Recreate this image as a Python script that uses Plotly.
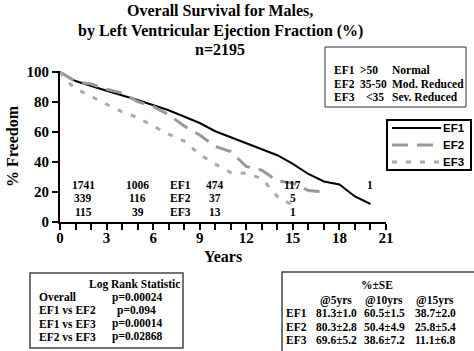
import plotly.graph_objects as go

# ---------------- data ----------------
ef1_years = [0, 1, 3, 5, 7, 9, 10, 11, 13, 14, 15, 16, 17, 18, 19, 20]
ef1_surv = [100, 94, 87.5, 81.3, 74.5, 66, 60.5, 56.5, 49, 44.5, 38.7, 32, 27, 25, 17, 12]

ef2_years = [0, 1, 2, 3, 4, 5, 6, 7, 8, 9, 10, 11, 11.5, 12, 13, 13.5, 14, 15, 16, 17]
ef2_surv = [100, 93.5, 92, 88.5, 86, 80.3, 77, 71.5, 64, 58, 50.4, 47, 42, 37, 34.5, 31, 27.5, 25.8, 21, 20]

ef3_years = [0, 0.5, 1, 2, 3, 4, 5, 6, 7, 8, 9, 10, 11, 12, 13, 13.5, 14, 15]
ef3_surv = [100, 93.5, 89, 83.5, 78.5, 73.5, 69.6, 64, 58.5, 54, 45, 38.6, 33, 32.5, 29, 23, 17, 11.1]

series_names = ["EF1", "EF2", "EF3"]

# numbers at risk
risk_cols = [1.5, 5, 10, 15, 20]
risk_ef1 = ["1741", "1006", "474", "117", "1"]
risk_ef2 = ["339", "116", "37", "5"]
risk_ef3 = ["115", "39", "13", "1"]

# EF definition box
ef_labels = ["EF1", "EF2", "EF3"]
ef_ranges = [">50", "35-50", "<35"]
ef_desc = ["Normal", "Mod. Reduced", "Sev. Reduced"]

# log rank statistics
lr_names = ["Overall", "EF1 vs EF2", "EF1 vs EF3", "EF2 vs EF3"]
lr_pvals = ["p=0.00024", "p=0.094", "p=0.00014", "p=0.02868"]

# % +- SE table
se_cols = ["@5yrs", "@10yrs", "@15yrs"]
se_rows = {
    "EF1": ["81.3±1.0", "60.5±1.5", "38.7±2.0"],
    "EF2": ["80.3±2.8", "50.4±4.9", "25.8±5.4"],
    "EF3": ["69.6±5.2", "38.6±7.2", "11.1±6.8"],
}

x_ticks = [0, 3, 6, 9, 12, 15, 18, 21]
y_ticks = [0, 20, 40, 60, 80, 100]

# ---------------- layout helpers ----------------
W, H = 474, 351
L, R, T, B = 60, 88, 71, 129
PW, PH = W - L - R, H - T - B
SERIF = "Liberation Serif"


def px(x):
    return (x - L) / PW


def py(y):
    return (H - B - y) / PH


styles = [
    dict(color="black", width=2),
    dict(color="#999999", width=3, dash="16px,9px"),
    dict(color="#aaaaaa", width=3, dash="5px,9px"),
]

fig = go.Figure()
for name, xs, ys, st in zip(series_names, [ef1_years, ef2_years, ef3_years],
                            [ef1_surv, ef2_surv, ef3_surv], styles):
    fig.add_trace(go.Scatter(x=xs, y=ys, mode="lines", name=name, line=st, showlegend=False))

ann = []
fsmall = dict(family=SERIF, size=11.5, color="black", weight="bold")

# numbers at risk
for row, (vals, yv) in enumerate(zip([risk_ef1, risk_ef2, risk_ef3], [25, 16, 7])):
    for i, v in enumerate(vals):
        ann.append(dict(x=risk_cols[i], y=yv, xref="x", yref="y", text=v, showarrow=False,
                        font=fsmall, xanchor="center", yanchor="middle"))
    ann.append(dict(x=7.75, y=yv, xref="x", yref="y", text=series_names[row], showarrow=False,
                    font=fsmall, xanchor="center", yanchor="middle"))

# title
title_lines = ["Overall Survival for Males,", "by Left Ventricular Ejection Fraction (%)", "n=2195"]
for txt, yy in zip(title_lines, [11, 31, 50]):
    ann.append(dict(x=px(220), y=py(yy), xref="paper", yref="paper", text=txt, showarrow=False,
                    font=dict(family=SERIF, size=16, color="black", weight="bold"),
                    xanchor="center", yanchor="middle"))

# EF definitions box
for i in range(3):
    yy = py(70 + 13.5 * i)
    ann.append(dict(x=px(332), y=yy, xref="paper", yref="paper", text=ef_labels[i], showarrow=False,
                    font=fsmall, xanchor="left", yanchor="middle"))
    ann.append(dict(x=px(364 if ef_ranges[i] == "<35" else 358), y=yy, xref="paper", yref="paper",
                    text=ef_ranges[i], showarrow=False, font=fsmall, xanchor="left", yanchor="middle"))
    ann.append(dict(x=px(390), y=yy, xref="paper", yref="paper", text=ef_desc[i], showarrow=False,
                    font=fsmall, xanchor="left", yanchor="middle"))

# log rank box
ann.append(dict(x=px(87), y=py(284), xref="paper", yref="paper", text="Log Rank Statistic",
                showarrow=False, font=fsmall, xanchor="left", yanchor="middle"))
for i, (n, p) in enumerate(zip(lr_names, lr_pvals)):
    yy = py(297 + 13.3 * i)
    ann.append(dict(x=px(37), y=yy, xref="paper", yref="paper", text=n, showarrow=False,
                    font=fsmall, xanchor="left", yanchor="middle"))
    ann.append(dict(x=px(115 if p == "p=0.094" else 110), y=yy, xref="paper", yref="paper", text=p,
                    showarrow=False, font=fsmall, xanchor="left", yanchor="middle"))

# SE table
ann.append(dict(x=px(377), y=py(285), xref="paper", yref="paper", text="%±SE", showarrow=False,
                font=fsmall, xanchor="center", yanchor="middle"))
col_x = [336, 384, 435]
for j, c in enumerate(se_cols):
    ann.append(dict(x=px(col_x[j]), y=py(300), xref="paper", yref="paper", text=c, showarrow=False,
                    font=fsmall, xanchor="center", yanchor="middle"))
for i, (k, vals) in enumerate(se_rows.items()):
    yy = py(313 + 13.5 * i)
    ann.append(dict(x=px(284), y=yy, xref="paper", yref="paper", text=k, showarrow=False,
                    font=fsmall, xanchor="left", yanchor="middle"))
    for j, v in enumerate(vals):
        ann.append(dict(x=px(col_x[j]), y=yy, xref="paper", yref="paper", text=v, showarrow=False,
                        font=fsmall, xanchor="center", yanchor="middle"))

shapes = [
    dict(type="rect", xref="paper", yref="paper", x0=px(325), x1=px(466), y0=py(107), y1=py(47),
         line=dict(color="#333333", width=1)),
    dict(type="rect", xref="paper", yref="paper", x0=px(30), x1=px(183), y0=py(348), y1=py(273),
         line=dict(color="#444444", width=1.5)),
    dict(type="rect", xref="paper", yref="paper", x0=px(282), x1=px(478), y0=py(356), y1=py(272),
         line=dict(color="#444444", width=1.5)),
    # legend frame
    dict(type="rect", xref="paper", yref="paper", x0=px(387), x1=px(471), y0=py(170), y1=py(120),
         line=dict(color="black", width=2), fillcolor="white"),
]

# legend entries
for i, (name, st) in enumerate(zip(series_names, styles)):
    yy = py(128 + 17 * i)
    shapes.append(dict(type="line", xref="paper", yref="paper", x0=px(392), x1=px(441), y0=yy, y1=yy,
                       line=st))
    ann.append(dict(x=px(441), y=yy, xref="paper", yref="paper", text=name, showarrow=False,
                    font=dict(family="Liberation Sans", size=11.5, color="black", weight="bold"),
                    xanchor="left", yanchor="middle"))

fig.update_layout(
    width=W, height=H,
    margin=dict(l=L, r=R, t=T, b=B),
    paper_bgcolor="white", plot_bgcolor="white",
    font=dict(family=SERIF, color="black", weight="bold"),
    showlegend=False,
    annotations=ann,
    shapes=shapes,
    xaxis=dict(range=[0, 21], tickvals=x_ticks, showgrid=False, zeroline=False,
               showline=True, linecolor="black", linewidth=2,
               ticks="outside", ticklen=6, tickwidth=2, tickcolor="black",
               ticklabelstandoff=-5,
               minor=dict(dtick=1, tick0=0, ticks="outside", ticklen=6, tickwidth=2, tickcolor="black"),
               tickfont=dict(family=SERIF, size=15, weight="bold"),
               title=dict(text="Years", font=dict(family=SERIF, size=16, weight="bold"), standoff=6)),
    yaxis=dict(range=[0, 100.67], tickvals=y_ticks, showgrid=False, zeroline=False,
               showline=True, linecolor="black", linewidth=2,
               ticks="outside", ticklen=6, tickwidth=2, tickcolor="black",
               tickfont=dict(family=SERIF, size=15, weight="bold"),
               title=dict(text="% Freedom", font=dict(family=SERIF, size=16, weight="bold"), standoff=4)),
)

fig.write_html("out.html")
